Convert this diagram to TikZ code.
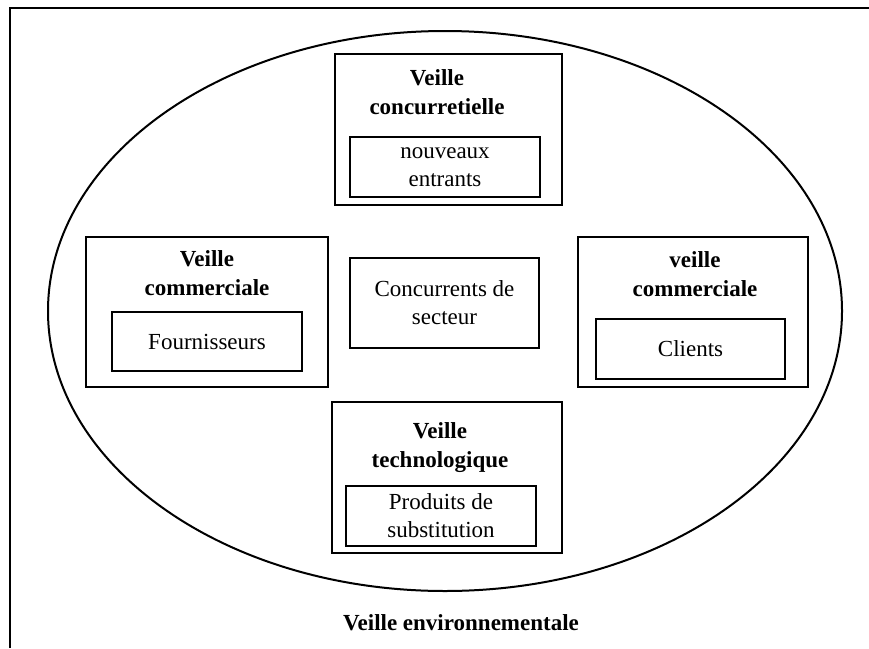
\documentclass[tikz,border=0pt]{standalone}
\usepackage{fontspec}
\setmainfont{Liberation Serif}
\usetikzlibrary{shapes.geometric}
\tikzset{
  outerbox/.style={draw, line width=2pt, inner sep=0pt},
  innerbox/.style={draw, line width=2pt, inner sep=0pt, align=center,
    font=\fontsize{23}{28}\selectfont},
  titletext/.style={inner sep=0pt, align=center, font=\fontsize{23}{29}\selectfont\bfseries},
}
\begin{document}
\begin{tikzpicture}[x=1pt, y=-1pt]
\useasboundingbox (0,0) rectangle (869,648);
% frame
\coordinate (fb) at (10,648);
\coordinate (ftl) at (10,8);
\coordinate (fr) at (869,8);
\draw[line width=2pt] (fb) -- (ftl) -- (fr);
% ellipse
\node[draw, line width=2pt, ellipse, minimum width=794pt, minimum height=560pt, inner sep=0pt] (env) at (445,311) {};
\node[titletext] (envT) at (461,623) {Veille environnementale};
% top
\node[outerbox, minimum width=227pt, minimum height=151pt] (top) at (448.5,129.5) {};
\node[titletext] (topT) at (437,92.5) {Veille\\concurretielle};
\node[innerbox, minimum width=190pt, minimum height=60pt] (topI) at (445,167) {nouveaux\\entrants};
% bottom
\node[outerbox, minimum width=230pt, minimum height=151pt] (bot) at (447,477.5) {};
\node[titletext] (botT) at (440,448) {Veille\\technologique};
\node[innerbox, minimum width=190pt, minimum height=60pt] (botI) at (441,516) {Produits de\\substitution};
% left
\node[outerbox, minimum width=242pt, minimum height=150pt] (left) at (207,312) {};
\node[titletext] (leftT) at (207,273) {Veille\\commerciale};
\node[innerbox, minimum width=190pt, minimum height=59pt] (leftI) at (207,341.5) {Fournisseurs};
% right
\node[outerbox, minimum width=230pt, minimum height=150pt] (right) at (693,312) {};
\node[titletext] (rightT) at (695,274) {veille\\commerciale};
\node[innerbox, minimum width=189pt, minimum height=60pt] (rightI) at (690.5,349) {Clients};
% center
\node[innerbox, minimum width=189pt, minimum height=90pt] (mid) at (444.5,303) {Concurrents de\\secteur};
\end{tikzpicture}
\end{document}
